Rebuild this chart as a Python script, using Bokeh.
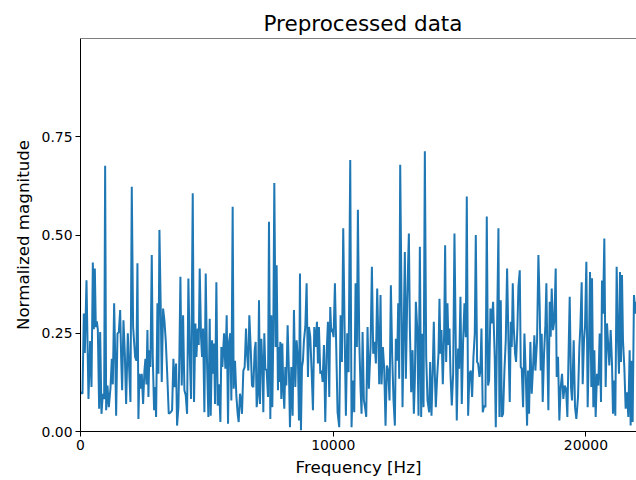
from bokeh.plotting import figure
from bokeh.models import Range1d, FixedTicker, Span, NumeralTickFormatter
from bokeh.embed import file_html
from bokeh.resources import INLINE

title_text = "Preprocessed data"
x_label = "Frequency [Hz]"
y_label = "Normalized magnitude"
x_ticks = [0, 10000, 20000]
y_ticks = [0.0, 0.25, 0.5, 0.75]

freq_hz = [
    0, 79, 132, 171, 237, 316, 382, 435, 488, 527, 567, 606, 646, 685, 738, 778, 830, 883, 936, 975,
    1015, 1068, 1120, 1186, 1239, 1278, 1331, 1371, 1410, 1463, 1516, 1569, 1608, 1648, 1700, 1753, 1806, 1872,
    1976, 2029, 2082, 2161, 2213, 2253, 2292, 2332, 2385, 2424, 2477, 2530, 2569, 2609, 2648, 2688, 2727, 2767,
    2820, 2859, 2912, 2951, 2991, 3044, 3083, 3123, 3175, 3215, 3268, 3320, 3373, 3426, 3492, 3571, 3624, 3676,
    3729, 3782, 3821,
    3874, 3914, 3953, 4006, 4059, 4111, 4164, 4217, 4269, 4322, 4375, 4441, 4493, 4546, 4586, 4638, 4678, 4717,
    4770, 4810, 4849, 4902, 4955, 5007, 5060, 5113, 5152, 5205, 5245, 5284, 5324, 5376, 5429, 5482, 5535, 5574,
    5614, 5680, 5732, 5785, 5838, 5877, 5925, 5969, 6021,
    6061, 6114, 6166, 6219, 6259, 6311, 6351, 6390, 6443, 6496, 6549, 6588, 6641, 6680, 6733, 6786, 6839, 6891,
    6931, 6970, 7023, 7063, 7102, 7155, 7208, 7234, 7273, 7313, 7366, 7418, 7458, 7511, 7550, 7590, 7629, 7669,
    7722, 7761, 7814,
    7827, 7866, 7906, 7946, 7985, 8025, 8064, 8104, 8143, 8196, 8249, 8288, 8341, 8394, 8446, 8499, 8552, 8605,
    8644, 8684, 8723, 8763, 8802, 8842, 8895, 8947, 9000, 9040, 9092, 9145, 9198, 9250, 9303, 9356, 9395, 9435,
    9488, 9540, 9580, 9633, 9685, 9738, 9791,
    9843, 9882, 9922, 9961, 10014, 10067, 10119, 10172, 10238, 10291, 10343, 10396, 10449, 10501, 10554, 10607,
    10673, 10725, 10778, 10831, 10884, 10936, 10976, 11029, 11081, 11121, 11161, 11213, 11266, 11306, 11358,
    11411, 11477, 11530, 11582, 11635, 11688, 11740,
    11780, 11820, 11872, 11912, 11965, 12017, 12070, 12123, 12175, 12228, 12281, 12334, 12386, 12439, 12478,
    12531, 12571, 12610, 12650, 12742, 12834, 12874, 12927, 12993, 13032, 13085, 13138, 13190, 13230, 13269,
    13322, 13375, 13428, 13480, 13520, 13573, 13625, 13678, 13731,
    13796, 13835, 13888, 13941, 13980, 14020, 14059, 14112, 14165, 14204, 14244, 14283, 14336, 14389, 14428,
    14468, 14520, 14560, 14600, 14639, 14692, 14745, 14797, 14850, 14889, 14942, 14982, 15034, 15087, 15140,
    15193, 15245, 15285, 15338, 15390, 15443, 15496, 15548, 15601, 15641, 15693,
    15733, 15786, 15825, 15865, 15917, 15970, 16023, 16076, 16128, 16168, 16221, 16273, 16326, 16392, 16432,
    16484, 16537, 16576, 16629, 16669, 16721, 16774, 16827, 16880, 16932, 16985, 17025, 17064, 17104, 17143,
    17196, 17236, 17288, 17328, 17381, 17420, 17460, 17512, 17565, 17618, 17670,
    17709, 17749, 17801, 17854, 17907, 17959, 17999, 18065, 18118, 18170, 18210, 18249, 18289, 18342, 18394,
    18434, 18473, 18513, 18566, 18605, 18645, 18698, 18750, 18803, 18842, 18895, 18948, 19001, 19053, 19106,
    19159, 19212, 19264, 19317, 19357, 19409, 19449, 19515, 19567, 19620,
    19686, 19739, 19778, 19831, 19871, 19923, 19963, 20016, 20068, 20121, 20161, 20213, 20240, 20292, 20332,
    20384, 20437, 20490, 20543, 20595, 20635, 20675, 20727, 20780, 20833, 20885, 20925, 20978, 21030, 21070,
    21110, 21162, 21215, 21268, 21307, 21347, 21386, 21426, 21465, 21518, 21571, 21624, 21676, 21729, 21768,
    21808, 21848, 21900, 21953, 22000,
]

magnitude = [
    0.10, 0.096, 0.30, 0.20, 0.385, 0.083, 0.23, 0.113, 0.43, 0.26, 0.415, 0.266, 0.28, 0.26, 0.058, 0.253, 0.045, 0.096, 0.083, 0.676,
    0.054, 0.117, 0.062, 0.11, 0.185, 0.12, 0.326, 0.20, 0.04, 0.249, 0.253, 0.309, 0.19, 0.105, 0.283, 0.20, 0.07, 0.25,
    0.075, 0.623, 0.266, 0.19, 0.18, 0.428, 0.032, 0.147, 0.109, 0.147, 0.07, 0.155, 0.185, 0.12, 0.258, 0.088, 0.207, 0.164,
    0.449, 0.19, 0.054, 0.113, 0.037, 0.326, 0.147, 0.513, 0.317, 0.126, 0.313, 0.283, 0.232, 0.155, 0.045, 0.049, 0.054, 0.185,
    0.113, 0.173, 0.015,
    0.062, 0.198, 0.394, 0.117, 0.296, 0.105, 0.092, 0.045, 0.389, 0.198, 0.083, 0.606, 0.075, 0.275, 0.19, 0.262, 0.22, 0.415,
    0.24, 0.19, 0.262, 0.049, 0.402, 0.173, 0.037, 0.287, 0.04, 0.232, 0.147, 0.224, 0.07, 0.38, 0.066, 0.12, 0.024, 0.215,
    0.164, 0.25, 0.16, 0.296, 0.02, 0.228, 0.25, 0.079, 0.572,
    0.109, 0.18, 0.092, 0.045, 0.024, 0.096, 0.079, 0.045, 0.155, 0.164, 0.262, 0.198, 0.155, 0.296, 0.215, 0.117, 0.113, 0.207,
    0.228, 0.062, 0.096, 0.334, 0.07, 0.236, 0.147, 0.049, 0.25, 0.16, 0.155, 0.088, 0.534, 0.032, 0.296, 0.062, 0.25, 0.632,
    0.215, 0.423, 0.105,
    0.215, 0.126, 0.228, 0.083, 0.224, 0.109, 0.058, 0.164, 0.117, 0.27, 0.147, 0.011, 0.164, 0.04, 0.309, 0.113, 0.232, 0.18,
    0.028, 0.402, 0.003, 0.164, 0.18, 0.232, 0.266, 0.377, 0.139, 0.266, 0.24, 0.155, 0.054, 0.266, 0.215, 0.279, 0.173, 0.266,
    0.147, 0.155, 0.126, 0.22, 0.024, 0.198, 0.279,
    0.088, 0.317, 0.253, 0.262, 0.24, 0.377, 0.215, 0.049, 0.011, 0.296, 0.177, 0.517, 0.266, 0.04, 0.25, 0.151,
    0.691, 0.011, 0.13, 0.049, 0.377, 0.215, 0.564, 0.236, 0.109, 0.045, 0.253, 0.079, 0.058, 0.037, 0.266,
    0.109, 0.215, 0.419, 0.198, 0.228, 0.173, 0.364,
    0.249, 0.12, 0.347, 0.12, 0.215, 0.16, 0.015, 0.168, 0.155, 0.079, 0.372, 0.19, 0.079, 0.015, 0.236,
    0.18, 0.326, 0.134, 0.679, 0.062, 0.457, 0.134, 0.334, 0.504, 0.266, 0.10, 0.207, 0.045, 0.13, 0.33,
    0.266, 0.04, 0.47, 0.037, 0.249, 0.062, 0.713, 0.19, 0.079,
    0.049, 0.177, 0.04, 0.164, 0.279, 0.147, 0.062, 0.139, 0.198, 0.338, 0.198, 0.258, 0.12, 0.249, 0.474,
    0.177, 0.326, 0.22, 0.262, 0.147, 0.066, 0.147, 0.504, 0.215, 0.028, 0.211, 0.16, 0.343, 0.07, 0.232,
    0.326, 0.24, 0.598, 0.04, 0.147, 0.155, 0.088, 0.19, 0.249, 0.50, 0.177,
    0.173, 0.139, 0.155, 0.262, 0.049, 0.066, 0.062, 0.547, 0.117, 0.13, 0.313, 0.275, 0.33, 0.185, 0.011,
    0.266, 0.517, 0.037, 0.334, 0.037, 0.045, 0.155, 0.232, 0.415, 0.232, 0.075, 0.279, 0.215, 0.377, 0.266,
    0.198, 0.177, 0.266, 0.368, 0.41, 0.164, 0.16, 0.062, 0.249, 0.147, 0.015,
    0.155, 0.045, 0.228, 0.096, 0.164, 0.245, 0.155, 0.232, 0.449, 0.317, 0.155, 0.249, 0.075, 0.198, 0.27,
    0.377, 0.198, 0.054, 0.33, 0.241, 0.364, 0.258, 0.283, 0.415, 0.139, 0.19, 0.028, 0.113, 0.147, 0.083,
    0.117, 0.109, 0.037, 0.215, 0.343, 0.113, 0.079, 0.232, 0.062, 0.032,
    0.088, 0.215, 0.266, 0.38, 0.12, 0.232, 0.266, 0.432, 0.062, 0.232, 0.406, 0.113, 0.39, 0.062, 0.207,
    0.037, 0.147, 0.117, 0.249, 0.075, 0.384, 0.30, 0.491, 0.113, 0.275, 0.215, 0.168, 0.258, 0.173, 0.045,
    0.13, 0.04, 0.419, 0.232, 0.147, 0.406, 0.177, 0.398, 0.232, 0.164, 0.058, 0.10, 0.037, 0.207, 0.015,
    0.18, 0.024, 0.347, 0.30, 0.33,
]

FONT = "DejaVu Sans"

p = figure(width=636, height=480, output_backend="svg", toolbar_location=None,
           x_range=Range1d(0, 22000), y_range=Range1d(0, 1.0),
           min_border_left=80, min_border_right=0, min_border_top=38, min_border_bottom=49)

p.line(freq_hz, magnitude, line_color="#1f77b4", line_width=2)

p.title.text = title_text
p.title.text_font = FONT
p.title.text_font_size = "21.5px"
p.title.text_font_style = "normal"
p.title.text_color = "black"
p.title.align = "left"
p.title.offset = 183
p.title.standoff = 6

p.outline_line_color = None
p.xgrid.visible = False
p.ygrid.visible = False
p.background_fill_color = "white"
p.border_fill_color = "white"

for ax in (p.xaxis[0], p.yaxis[0]):
    ax.axis_line_color = "black"
    ax.axis_line_width = 1
    ax.major_tick_line_color = "black"
    ax.major_tick_line_width = 1
    ax.major_tick_out = 5
    ax.major_tick_in = 0
    ax.minor_tick_line_color = None
    ax.major_label_text_font = FONT
    ax.major_label_text_font_size = "13.9px"
    ax.major_label_text_color = "black"
    ax.major_label_standoff = 3
    ax.axis_label_text_font = FONT
    ax.axis_label_text_font_size = "16.7px"
    ax.axis_label_text_font_style = "normal"
    ax.axis_label_text_color = "black"

p.xaxis[0].axis_label = x_label
p.yaxis[0].axis_label = y_label
p.xaxis[0].ticker = FixedTicker(ticks=x_ticks)
p.yaxis[0].ticker = FixedTicker(ticks=y_ticks)
p.xaxis[0].formatter = NumeralTickFormatter(format="0")
p.yaxis[0].formatter = NumeralTickFormatter(format="0.00")
p.xaxis[0].axis_label_standoff = 4
p.yaxis[0].axis_label_standoff = 6

p.add_layout(Span(location=1.0, dimension="width", line_color="black", line_width=1))

open("out.html", "w").write(file_html(p, INLINE))
